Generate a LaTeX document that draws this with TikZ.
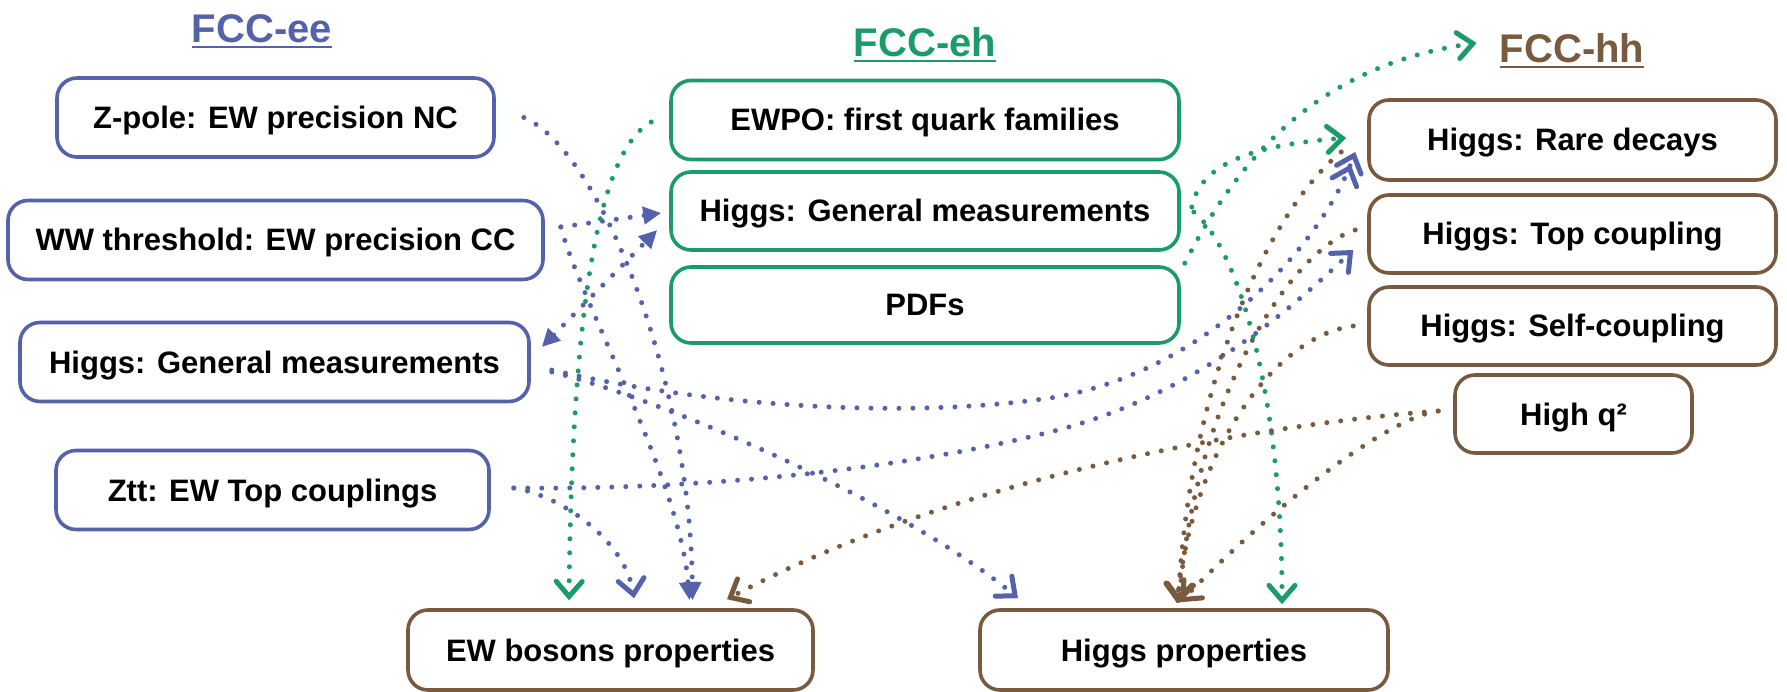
\documentclass[tikz,border=0pt]{standalone}
\usepackage{fontspec}
\setmainfont{Liberation Sans}
\usetikzlibrary{arrows.meta,calc}
\definecolor{eeblue}{RGB}{84,98,170}
\definecolor{ehgreen}{RGB}{26,155,104}
\definecolor{hhbrown}{RGB}{120,90,62}
\begin{document}
\begin{tikzpicture}[x=1pt,y=-1pt,
  box/.style={draw, rounded corners=20pt, line width=3.6pt, minimum height=79pt,
    text height=22pt, text depth=0pt, inner sep=0pt,
    font=\fontsize{31}{36}\selectfont\bfseries},
  eebox/.style={box, draw=eeblue},
  ehbox/.style={box, draw=ehgreen},
  hhbox/.style={box, draw=hhbrown},
  title/.style={inner sep=0pt, anchor=base, font=\fontsize{40}{48}\selectfont\bfseries},
  uline/.style={line width=2.8pt},
  link/.style={line width=5pt, line cap=round, dash pattern=on 0pt off 14pt},
  vtip/.tip={Straight Barb[length=15pt,width=26pt,line width=5pt,line cap=round]},
  barb/.style={-vtip},
  tri/.style={-{Triangle[length=18pt,width=17pt]}},
  dbarb/.style={-{vtip[sep=-8pt]vtip}},
  ttri/.style={{Triangle[length=18pt,width=17pt]}-{Triangle[length=18pt,width=17pt]}},
]
\fill[white] (0,0) rectangle (1787,692);
\useasboundingbox (0,0) rectangle (1787,692);

% titles
\node[title, text=eeblue] (tee) at (262,43) {FCC-ee};
\node[title, text=ehgreen] (teh) at (925,57) {FCC-eh};
\node[title, text=hhbrown] (thh) at (1572,63) {FCC-hh};
\draw[uline, eeblue] ($(tee.base west)+(0,4)$) -- ($(tee.base east)+(0,4)$);
\draw[uline, ehgreen] ($(teh.base west)+(0,4)$) -- ($(teh.base east)+(0,4)$);
\draw[uline, hhbrown] ($(thh.base west)+(0,4)$) -- ($(thh.base east)+(0,4)$);

% FCC-ee
\node[eebox, minimum width=437pt] (zpole) at (275.5,117.5) {Z-pole: EW precision NC};
\node[eebox, minimum width=535pt] (ww) at (275.5,240) {WW threshold: EW precision CC};
\node[eebox, minimum width=509pt] (higgsee) at (274.5,362) {Higgs: General measurements};
\node[eebox, minimum width=433pt] (ztt) at (272.5,490) {Ztt: EW Top couplings};
% FCC-eh
\node[ehbox, minimum width=508pt] (ewpo) at (925,120) {EWPO: first quark families};
\node[ehbox, minimum width=508pt, minimum height=78pt] (higgseh) at (925,211) {Higgs: General measurements};
\node[ehbox, minimum width=508pt, minimum height=76pt] (pdfs) at (925,305) {PDFs};
% FCC-hh
\node[hhbox, minimum width=407pt, minimum height=80pt] (rare) at (1572.5,140) {Higgs: Rare decays};
\node[hhbox, minimum width=407pt, minimum height=78pt] (top) at (1572.5,234) {Higgs: Top coupling};
\node[hhbox, minimum width=407pt, minimum height=78pt] (self) at (1572.5,326) {Higgs: Self-coupling};
\node[hhbox, minimum width=237pt, minimum height=78pt] (highq) at (1573.5,414) {High q²};
% targets
\node[hhbox, minimum width=405pt, minimum height=80pt] (ewb) at (610.5,650) {EW bosons properties};
\node[hhbox, minimum width=408pt, minimum height=80pt] (hprop) at (1184,650) {Higgs properties};

% green connectors
\draw[link, ehgreen, barb] ($(ewpo.west)+(-18,2)$) .. controls (600,150) and (572,300) .. ($(ewb.north)+(-41.5,-8)$);
\draw[link, ehgreen, barb] ($(higgseh.east)+(11,-4)$) .. controls (1200,165) and (1250,145) .. ($(rare.west)+(-21,-2)$);
\draw[link, ehgreen, barb] ($(higgseh.east)+(13,1)$) .. controls (1240,250) and (1282,400) .. ($(hprop.north)+(98,-4)$);
\draw[link, ehgreen, barb] ($(pdfs.north east)+(4,-2)$) .. controls (1240,155) and (1320,65) .. ($(thh.base west)+(-23,-20)$);

% blue connectors
\draw[link, eeblue, tri] ($(zpole.east)+(28,0)$) .. controls (600,150) and (690,380) .. ($(ewb.north)+(82,-8)$);
\draw[link, eeblue, tri] ($(ww.east)+(16,-13)$) -- ($(higgseh.west)+(-8,2)$);
\draw[link, eeblue, tri] ($(ww.east)+(16,-13)$) .. controls (580,300) and (680,480) .. ($(ewb.north)+(79,-8)$);
\draw[link, eeblue, ttri] ($(higgsee.east)+(11,-15)$) -- ($(higgseh.west)+(-12,19)$);
\draw[link, eeblue, dbarb] ($(higgsee.east)+(21,8)$) .. controls (700,405) and (900,420) .. (1050,398) .. controls (1200,375) and (1320,250) .. ($(rare.west)+(-12,12)$);
\draw[link, eeblue, barb] ($(higgsee.east)+(21,10)$) .. controls (650,395) and (900,500) .. ($(hprop.north)+(-166,-10)$);
\draw[link, eeblue, barb] ($(ztt.east)+(23,-2)$) .. controls (560,495) and (625,540) .. ($(ewb.north)+(23.5,-10)$);
\draw[link, eeblue, barb] ($(ztt.east)+(23,-2)$) .. controls (700,490) and (900,470) .. (1050,432) .. controls (1200,395) and (1300,300) .. ($(top.west)+(-14,16)$);

% brown connectors
\draw[link, hhbrown, barb] ($(rare.west)+(-26,12)$) .. controls (1270,210) and (1190,380) .. ($(hprop.north)+(-6,-5)$);
\draw[link, hhbrown, barb] ($(top.west)+(-12,-4)$) .. controls (1290,250) and (1195,400) .. ($(hprop.north)+(-5,-5)$);
\draw[link, hhbrown, barb] ($(self.west)+(-14,0)$) .. controls (1280,335) and (1195,440) .. ($(hprop.north)+(-7,-5)$);
\draw[link, hhbrown, barb] ($(highq.west)+(-15,-3)$) .. controls (1400,415) and (1300,480) .. ($(hprop.north)+(-4,-6)$);
\draw[link, hhbrown, barb] ($(highq.west)+(-15,-3)$) .. controls (1250,425) and (950,480) .. ($(ewb.north)+(116.5,-9)$);
\end{tikzpicture}
\end{document}
